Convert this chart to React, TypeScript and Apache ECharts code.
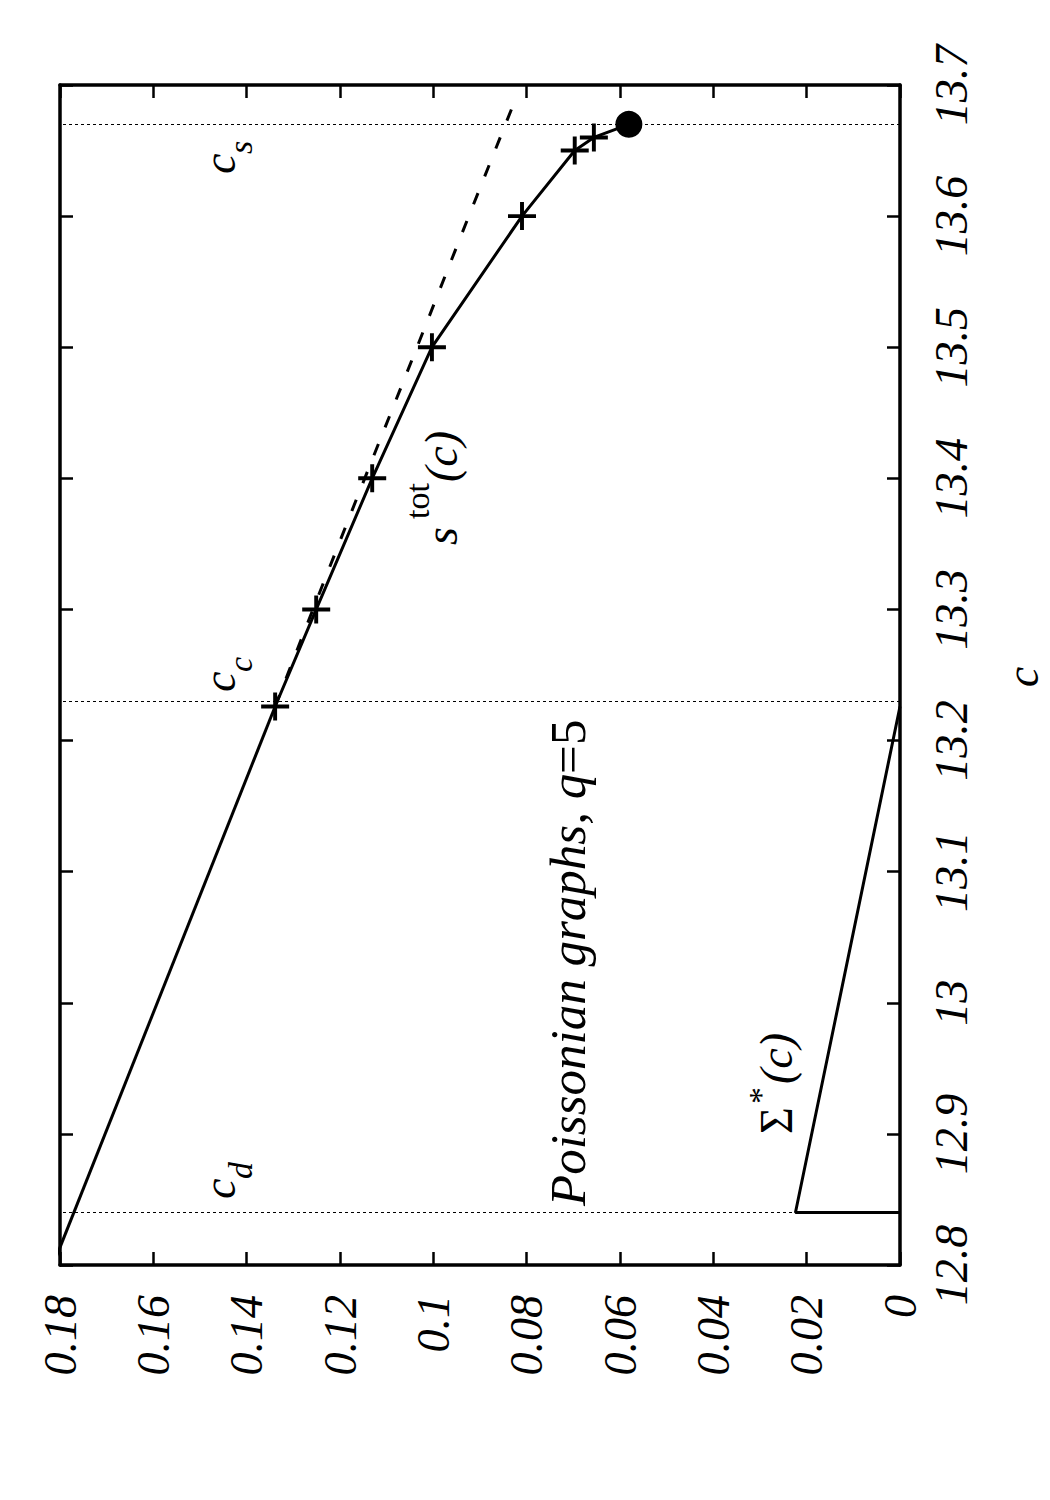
import React, { useEffect, useRef } from 'react';
import * as echarts from 'echarts';

// critical connectivities
const C_D = 12.84;
const C_C = 13.226;
const C_S = 13.67;

// axis ranges
const C_MIN = 12.8;
const C_MAX = 13.7;
const C_STEP = 0.1;
const S_MIN = 0;
const S_MAX = 0.18;
const S_STEP = 0.02;

// s_tot(c) below c_c: straight line entering through the left border
const linC = [12.8, C_C];
const linS = [0.1815, 0.1339];

// s_tot(c) computed points (+) between c_c and c_s
const totC = [13.226, 13.3, 13.4, 13.5, 13.6, 13.65, 13.66];
const totS = [0.1339, 0.1251, 0.1131, 0.1003, 0.081, 0.0697, 0.0656];

// end point (filled circle) at c_s
const endC = [C_S];
const endS = [0.0581];

// dashed branch
const dashC = [13.226, 13.3, 13.4, 13.5, 13.6, 13.69];
const dashS = [0.1339, 0.1258, 0.1147, 0.1035, 0.0924, 0.0823];

// Sigma*(c)
const sigC = [C_D, C_D, C_C];
const sigS = [0, 0.0224, 0];

const FONT = '"Liberation Serif", "DejaVu Serif", serif';
const PLUS = 'path://M8.6,0H11.4V8.6H20V11.4H11.4V20H8.6V11.4H0V8.6H8.6Z';

type Part = { text: string; dx: number; dy: number; size: number; italic?: boolean };

// text rotated 90deg ccw; (x, y) = centre line and start of the text on screen
const rotLabel = (x: number, y: number, parts: Part[]) => ({
  type: 'group',
  x,
  y,
  rotation: Math.PI / 2,
  children: parts.map(p => ({
    type: 'text',
    x: p.dx,
    y: p.dy,
    style: {
      text: p.text,
      fontFamily: FONT,
      fontSize: p.size,
      fontStyle: p.italic ? 'italic' : 'normal',
      fill: '#000',
      align: 'left',
      verticalAlign: 'middle'
    }
  }))
});

const pairs = (cs: number[], ss: number[]) => cs.map((c, i) => [ss[i], c]);

const App: React.FC = () => {
  const chartRef = useRef<HTMLDivElement>(null);

  useEffect(() => {
    if (!chartRef.current) return;
    const chart = echarts.init(chartRef.current, null, { renderer: 'svg' });

    const axisLine = { show: true, onZero: false, lineStyle: { color: '#000', width: 3.5 } };
    const axisTick = { show: true, inside: true, length: 13, lineStyle: { color: '#000', width: 2.5 } };
    const tickFont = {
      fontFamily: FONT,
      fontStyle: 'italic',
      fontSize: 46,
      color: '#000'
    };
    const curve = { color: '#000', width: 3 };

    const option = {
      animation: false,
      backgroundColor: '#fff',
      grid: {
        left: 60,
        right: 150,
        top: 85,
        bottom: 235,
        containLabel: false,
        outerBoundsMode: 'none'
      },
      xAxis: [
        {
          type: 'value',
          position: 'bottom',
          inverse: true,
          min: S_MIN,
          max: S_MAX,
          interval: S_STEP,
          splitLine: { show: false },
          axisLine,
          axisTick,
          axisLabel: { ...tickFont, rotate: 90, margin: 30 }
        },
        {
          type: 'value',
          position: 'top',
          inverse: true,
          min: S_MIN,
          max: S_MAX,
          interval: S_STEP,
          splitLine: { show: false },
          axisLine,
          axisTick,
          axisLabel: { show: false }
        }
      ],
      yAxis: [
        {
          type: 'value',
          position: 'right',
          min: C_MIN,
          max: C_MAX,
          interval: C_STEP,
          splitLine: { show: false },
          axisLine,
          axisTick,
          axisLabel: { ...tickFont, rotate: 90, margin: 28 }
        },
        {
          type: 'value',
          position: 'left',
          min: C_MIN,
          max: C_MAX,
          interval: C_STEP,
          splitLine: { show: false },
          axisLine,
          axisTick,
          axisLabel: { show: false }
        }
      ],
      series: [
        {
          name: 's_tot below c_c',
          type: 'line',
          xAxisIndex: 0,
          yAxisIndex: 0,
          data: pairs(linC, linS),
          symbol: 'none',
          clip: true,
          lineStyle: curve
        },
        {
          name: 'dashed',
          type: 'line',
          xAxisIndex: 0,
          yAxisIndex: 0,
          data: pairs(dashC, dashS),
          symbol: 'none',
          clip: true,
          lineStyle: { ...curve, type: [12, 18] }
        },
        {
          name: 's_tot',
          type: 'line',
          xAxisIndex: 0,
          yAxisIndex: 0,
          data: [
            ...pairs(totC, totS),
            ...pairs(endC, endS).map(v => ({ value: v, symbol: 'circle', symbolSize: 27 }))
          ],
          symbol: PLUS,
          symbolSize: 28,
          showSymbol: true,
          itemStyle: { color: '#000' },
          lineStyle: curve,
          z: 3
        },
        {
          name: 'Sigma*',
          type: 'line',
          xAxisIndex: 0,
          yAxisIndex: 0,
          data: pairs(sigC, sigS),
          symbol: 'none',
          clip: true,
          lineStyle: curve,
          markLine: {
            silent: true,
            symbol: ['none', 'none'],
            label: { show: false },
            lineStyle: { color: '#000', width: 1, type: [3, 3] },
            data: [{ yAxis: C_D }, { yAxis: C_C }, { yAxis: C_S }]
          }
        }
      ],
      graphic: [
        rotLabel(219, 174, [
          { text: 'c', dx: 0, dy: 0, size: 46, italic: true },
          { text: 's', dx: 20, dy: 21, size: 34, italic: true }
        ]),
        rotLabel(219, 692, [
          { text: 'c', dx: 0, dy: 0, size: 46, italic: true },
          { text: 'c', dx: 20, dy: 21, size: 34, italic: true }
        ]),
        rotLabel(219, 1199, [
          { text: 'c', dx: 0, dy: 0, size: 46, italic: true },
          { text: 'd', dx: 20, dy: 21, size: 34, italic: true }
        ]),
        rotLabel(441, 545, [
          { text: 's', dx: 0, dy: 0, size: 46, italic: true },
          { text: 'tot', dx: 26, dy: -24, size: 34 },
          { text: '(c)', dx: 63, dy: 0, size: 46, italic: true }
        ]),
        rotLabel(776, 1134, [
          { text: 'Σ', dx: 0, dy: 0, size: 46 },
          { text: '*', dx: 30, dy: -16, size: 34 },
          { text: '(c)', dx: 50, dy: 0, size: 46, italic: true }
        ]),
        {
          type: 'text',
          x: 568,
          y: 1206,
          rotation: Math.PI / 2,
          style: {
            text: '{i|Poissonian graphs, q}{n|=5}',
            fontFamily: FONT,
            fontSize: 51,
            fill: '#000',
            align: 'left',
            verticalAlign: 'middle',
            rich: {
              i: { fontFamily: FONT, fontSize: 51, fontStyle: 'italic', fill: '#000' },
              n: { fontFamily: FONT, fontSize: 51, fontStyle: 'normal', fill: '#000' }
            }
          }
        },
        {
          type: 'text',
          x: 1022,
          y: 677,
          rotation: Math.PI / 2,
          style: {
            text: 'c',
            fontFamily: FONT,
            fontSize: 46,
            fontStyle: 'italic',
            fill: '#000',
            align: 'center',
            verticalAlign: 'middle'
          }
        }
      ]
    };

    chart.setOption(option as any);

    return () => {
      chart.dispose();
    };
  }, []);

  return (
    <div
      ref={chartRef}
      style={{ position: 'absolute', left: 0, top: 0, width: 1050, height: 1500, background: '#fff' }}
    />
  );
};

export default App;
